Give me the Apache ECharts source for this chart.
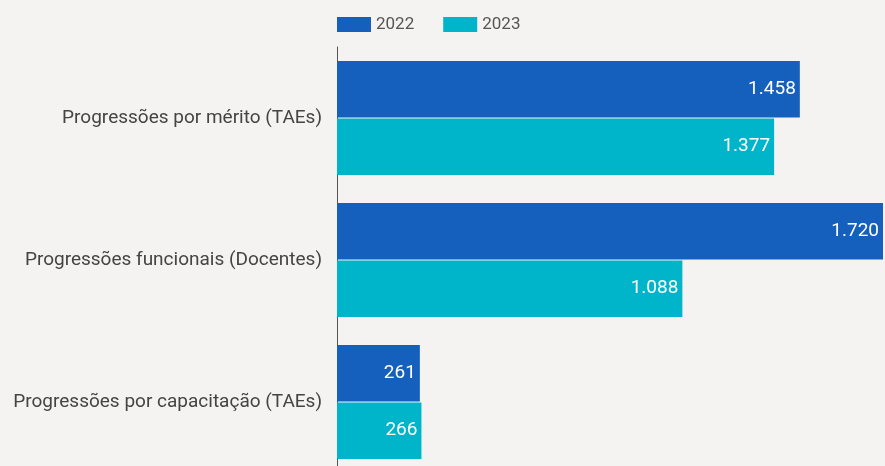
<!DOCTYPE html>
<html>
<head>
<meta charset="utf-8">
<script src="https://cdn.jsdelivr.net/npm/echarts@6/dist/echarts.min.js"></script>
<style>
  html, body { margin: 0; padding: 0; background: #f4f3f1; }
  #chart { width: 885px; height: 466px; }
</style>
</head>
<body>
<div id="chart"></div>
<script>
// Progressões por categoria, 2022 x 2023
const categories = [
  'Progressões por mérito (TAEs)',
  'Progressões funcionais (Docentes)',
  'Progressões por capacitação (TAEs)'
];
const values2022 = [1458, 1720, 261];
const values2023 = [1377, 1088, 266];

const fmt = v => v.toLocaleString('pt-BR');

const chart = echarts.init(document.getElementById('chart'));

const labelStyle = {
  show: true,
  position: 'insideRight',
  distance: 4,
  color: '#ffffff',
  fontFamily: 'Roboto',
  fontSize: 19,
  fontWeight: 'normal',
  formatter: p => fmt(p.value)
};

chart.setOption({
  backgroundColor: '#f4f3f1',
  animation: false,
  legend: {
    top: 11,
    left: 332,
    itemWidth: 34,
    itemHeight: 15,
    itemGap: 29,
    icon: 'rect',
    textStyle: { fontFamily: 'Roboto', fontSize: 17, color: '#555' },
    data: ['2022', '2023']
  },
  // the plot runs slightly past the bottom edge of the canvas
  grid: {
    left: 337, right: 2, top: 47, height: 426,
    containLabel: false,
    outerBoundsMode: 'none'
  },
  xAxis: {
    type: 'value',
    min: 0,
    max: 1720,
    show: false
  },
  yAxis: {
    type: 'category',
    data: categories,
    inverse: true,
    axisLine: { show: true, lineStyle: { color: '#555', width: 1 } },
    axisTick: { show: false },
    axisLabel: {
      margin: 15,
      fontFamily: 'Roboto',
      fontSize: 19,
      color: '#444'
    }
  },
  series: [
    {
      name: '2022',
      type: 'bar',
      data: values2022,
      barCategoryGap: '19.7%',
      barGap: '1.5%',
      itemStyle: { color: '#1560bd' },
      label: labelStyle
    },
    {
      name: '2023',
      type: 'bar',
      data: values2023,
      itemStyle: { color: '#00b4c9' },
      label: labelStyle
    }
  ]
});
</script>
</body>
</html>
